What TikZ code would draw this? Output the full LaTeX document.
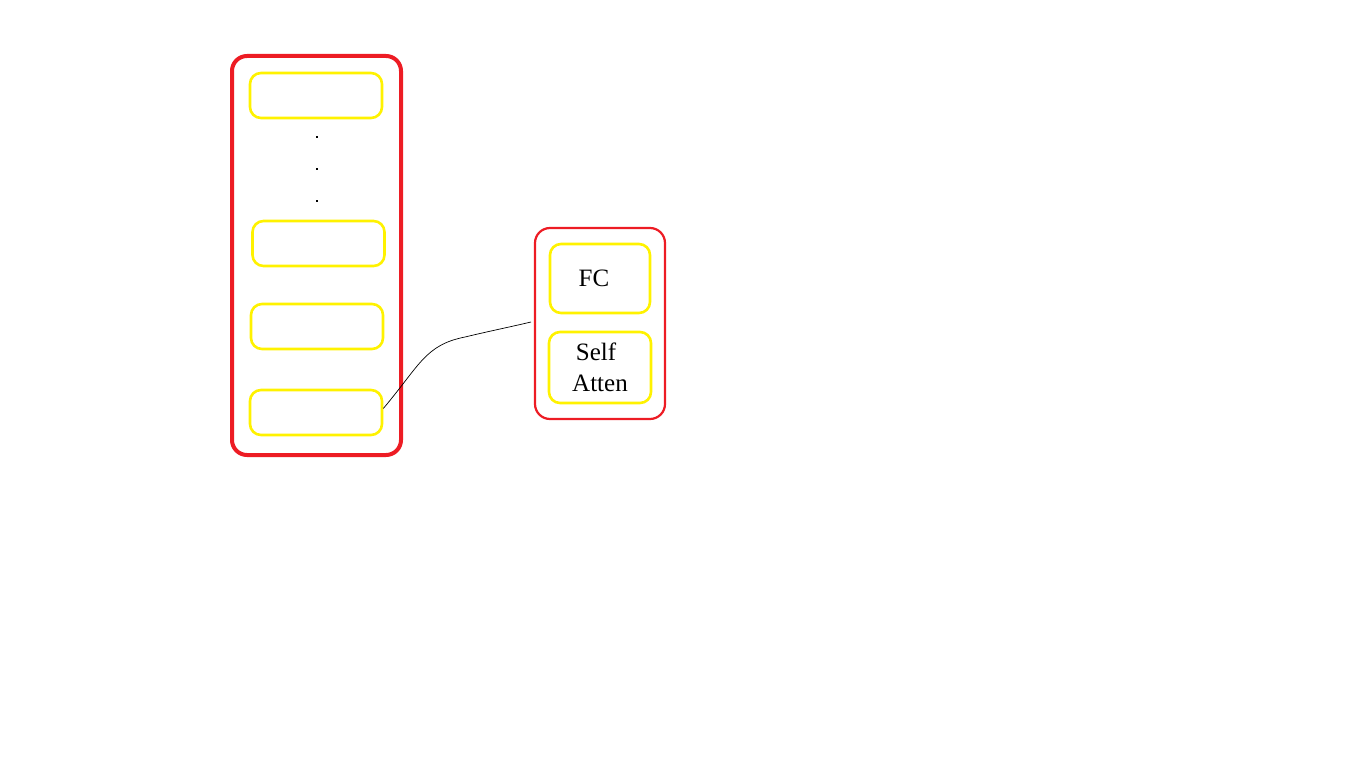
\documentclass[tikz,border=0pt]{standalone}
\usepackage{fontspec}
\setmainfont{Liberation Serif}
\definecolor{pred}{HTML}{ED1C24}
\definecolor{pyel}{HTML}{FFF200}
\begin{document}
\begin{tikzpicture}[x=1pt,y=-1pt,
  outer/.style={draw=pred, rounded corners=15pt, inner sep=0pt},
  layerbox/.style={draw=pyel, line width=2.6pt, rounded corners=11pt, inner sep=0pt, minimum width=132pt, minimum height=45pt},
  subbox/.style={draw=pyel, line width=2.6pt, rounded corners=11pt, inner sep=0pt, minimum width=100pt, align=center, font=\fontsize{25}{31}\selectfont},
  dotmark/.style={fill=black, inner sep=0pt, minimum size=2.6pt},
  link/.style={draw=black, line width=0.7pt}]
\useasboundingbox (0,0) rectangle (1366,768);
\node[outer, line width=4pt, minimum width=169pt, minimum height=399pt] (big) at (316.5,255.5) {};
\node[layerbox] (b1) at (316,95.5) {};
\node[layerbox] (b2) at (318.5,243.5) {};
\node[layerbox] (b3) at (317,326.5) {};
\node[layerbox] (b4) at (316,412.5) {};
\node[dotmark] (d1) at (317,137) {};
\node[dotmark] (d2) at (317,169) {};
\node[dotmark] (d3) at (317,201) {};
\node[outer, line width=2.2pt, minimum width=130pt, minimum height=191pt] (small) at (600,323.5) {};
\node[subbox, minimum height=69pt, text width=90pt] (fc) at (600,278.5) {\hspace*{-12pt}FC};
\node[subbox, minimum width=102pt, minimum height=71pt, text width=92pt] (sa) at (600,367.5) {\hspace*{-8pt}Self\\ Atten};
\coordinate (cend) at (531,322);
\draw[link] ([yshift=4pt]b4.east) .. controls (420,365) and (425,345) .. (465,337) .. controls (490,331) and (510,327) .. (cend);
\end{tikzpicture}
\end{document}
